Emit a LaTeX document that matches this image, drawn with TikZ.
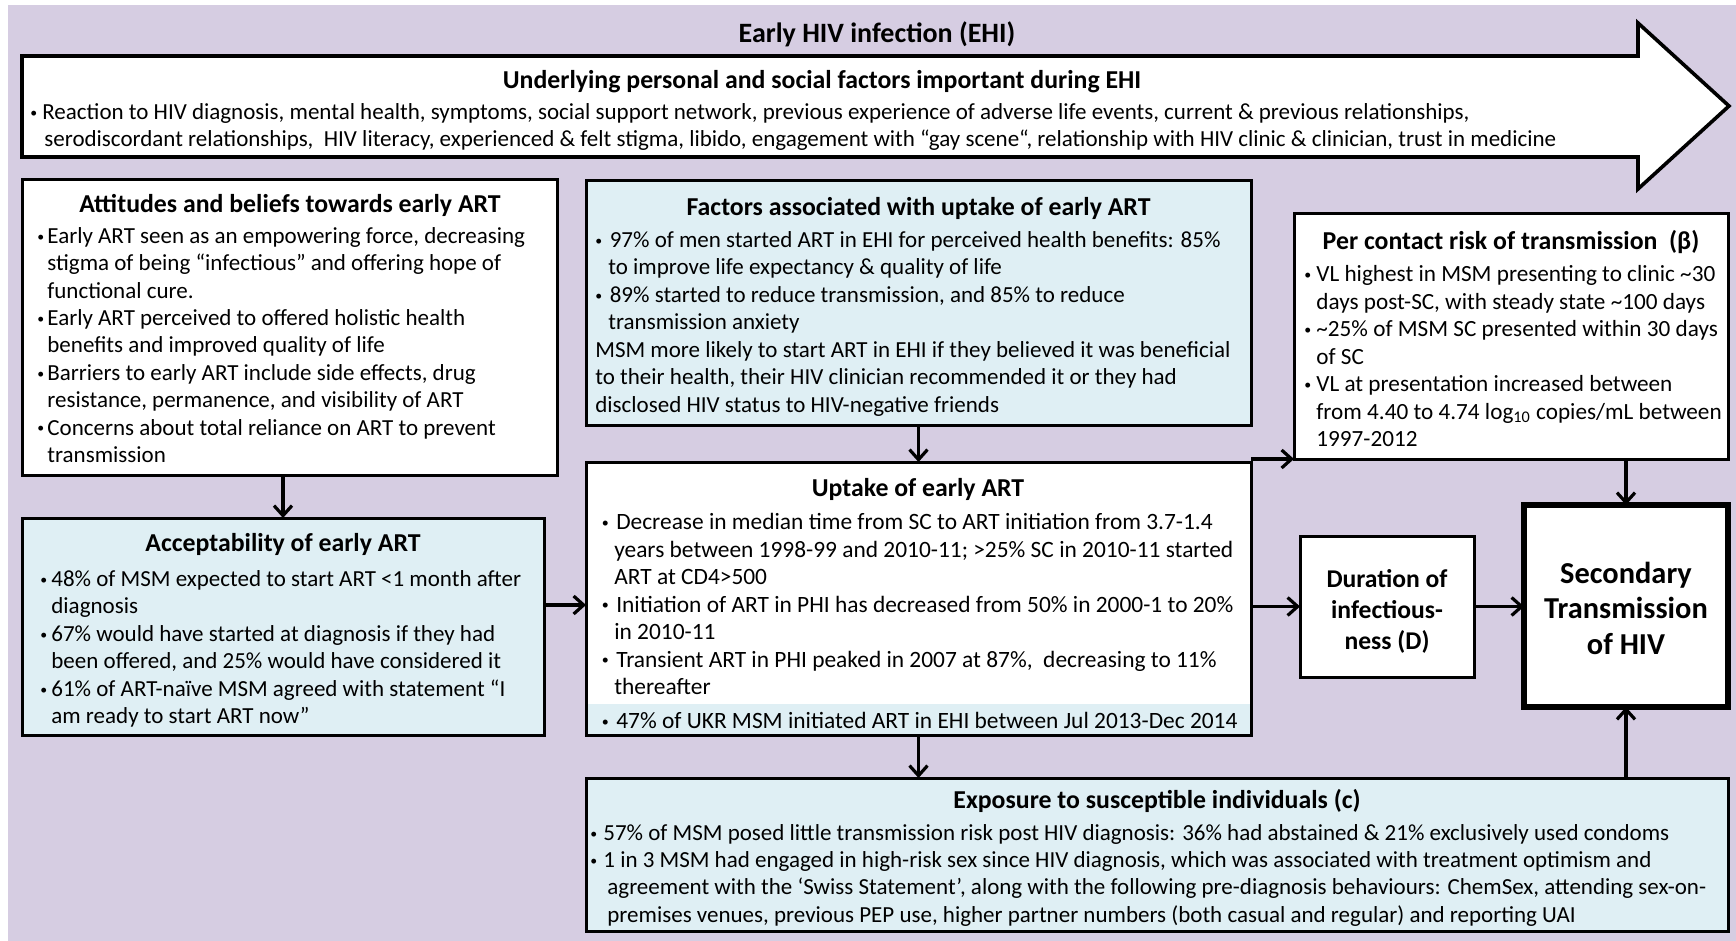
\documentclass[tikz,border=0pt]{standalone}
\usepackage{fontspec}
\setmainfont{Carlito}
\usepackage{graphicx}
\usetikzlibrary{arrows.meta,fit,calc}
\definecolor{bglilac}{RGB}{214,205,226}
\definecolor{paleblue}{RGB}{223,239,244}
\newcommand\bul[1]{\makebox[#1][l]{\raisebox{0.2ex}{\scalebox{0.6}{•}}}}
\newcommand\hang[1]{\hspace*{#1}}
\tikzset{
  box/.style={draw, line width=1.5pt, inner sep=0pt, outer sep=0pt, fill=white},
  bluebox/.style={box, fill=paleblue},
  arr/.style={line width=1.6pt, -{Straight Barb[length=5pt,width=9pt]}},
  % first baseline sits 10pt below the node's top edge
  body/.style={anchor=north west, align=left, inner sep=0pt,
    font=\fontsize{11.5}{13.7}\selectfont, execute at begin node={\rule{0pt}{10pt}}},
  head/.style={anchor=base, inner sep=0pt, font=\fontsize{12.9}{15}\selectfont\bfseries},
}
\begin{document}
\begin{tikzpicture}[x=0.5pt,y=-0.5pt]
\useasboundingbox (0,0) rectangle (1736,941);
\fill[white] (0,0) rectangle (1736,941);
\fill[bglilac] (8,5) rectangle (1736,941);

% phase banner
\node[anchor=base, inner sep=0pt, font=\fontsize{14}{16}\selectfont\bfseries] (title) at (877,43) {Early HIV infection (EHI)};
\draw[line width=1.8pt, fill=white] (22,56) -- (1638,56) -- (1638,23) -- (1729,106) -- (1638,189) -- (1638,157) -- (22,157) -- cycle;
\node[head] (ulh) at (822,89) {Underlying personal and social factors important during EHI};
\node[body, font=\fontsize{11.5}{13.5}\selectfont] (ul) at (30,103) {\bul{6pt}Reaction to HIV diagnosis, mental health, symptoms, social support network, previous experience of adverse life events, current \& previous relationships,\\
\hang{7pt}serodiscordant relationships,\ \ HIV literacy, experienced \& felt stigma, libido, engagement with “gay scene“, relationship with HIV clinic \& clinician, trust in medicine};

% boxes
\node[box, fit={(22,180)(557,475)}] (A) {};
\node[bluebox, fit={(586,181)(1251,425)}] (B) {};
\node[box, fit={(1294,214)(1728,459)}] (C) {};
\node[bluebox, fit={(22,518)(544,735)}] (D) {};
\node[box, fit={(586,462)(1251,735)}] (E) {};
\fill[paleblue] ($(E.south west)+(1.5,-1.5)$) rectangle ($(E.south east)+(-1.5,-31)$);
\node[box, fit={(1300,536)(1474,677)}] (F) {};
\node[box, line width=2.6pt, fit={(1524,505)(1728,707)}] (G) {};
\node[bluebox, fit={(586,778)(1728,931)}] (H) {};

% Attitudes
\node[head] (Ah) at (290,213) {Attitudes and beliefs towards early ART};
\node[body] (At) at (37,227) {\bul{5pt}Early ART seen as an empowering force, decreasing\\
\hang{5pt}stigma of being “infectious” and offering hope of\\
\hang{5pt}functional cure.\\
\bul{5pt}Early ART perceived to offered holistic health\\
\hang{5pt}benefits and improved quality of life\\
\bul{5pt}Barriers to early ART include side effects, drug\\
\hang{5pt}resistance, permanence, and visibility of ART\\
\bul{5pt}Concerns about total reliance on ART to prevent\\
\hang{5pt}transmission};

% Factors
\node[head] (Bh) at (918.5,216) {Factors associated with uptake of early ART};
\node[body, font=\fontsize{11.5}{13.75}\selectfont] (Bt) at (595,231) {\bul{7.2pt}97\% of men started ART in EHI for perceived health benefits: 85\%\\
\hang{6.5pt}to improve life expectancy \& quality of life\\
\bul{7.2pt}89\% started to reduce transmission, and 85\% to reduce\\
\hang{6.5pt}transmission anxiety\\
MSM more likely to start ART in EHI if they believed it was beneficial\\
to their health, their HIV clinician recommended it or they had\\
disclosed HIV status to HIV-negative friends};

% Per contact risk
\node[head] (Ch) at (1511,250) {Per contact risk of transmission\ \ (β)};
\node[body, font=\fontsize{11.6}{13.75}\selectfont] (Ct) at (1304,265) {\bul{6pt}VL highest in MSM presenting to clinic \textasciitilde30\\
\hang{6pt}days post-SC, with steady state \textasciitilde100 days\\
\bul{6pt}\textasciitilde25\% of MSM SC presented within 30 days\\
\hang{6pt}of SC\\
\bul{6pt}VL at presentation increased between\\
\hang{6pt}from 4.40 to 4.74 log\textsubscript{10} copies/mL between\\
\hang{6pt}1997-2012};

% Acceptability
\node[head] (Dh) at (283,551) {Acceptability of early ART};
\node[body, font=\fontsize{11.5}{13.75}\selectfont] (Dt) at (40,570) {\bul{5.5pt}48\% of MSM expected to start ART <1 month after\\
\hang{5.5pt}diagnosis\\
\bul{5.5pt}67\% would have started at diagnosis if they had\\
\hang{5.5pt}been offered, and 25\% would have considered it\\
\bul{5.5pt}61\% of ART-naïve MSM agreed with statement “I\\
\hang{5.5pt}am ready to start ART now”};

% Uptake
\node[head] (Eh) at (918,496) {Uptake of early ART};
\node[body, font=\fontsize{11.7}{13.75}\selectfont] (Et) at (601.5,513) {\bul{7.2pt}Decrease in median time from SC to ART initiation from 3.7-1.4\\
\hang{6.2pt}years between 1998-99 and 2010-11; >25\% SC in 2010-11 started\\
\hang{6.2pt}ART at CD4>500\\
\bul{7.2pt}Initiation of ART in PHI has decreased from 50\% in 2000-1 to 20\%\\
\hang{6.2pt}in 2010-11\\
\bul{7.2pt}Transient ART in PHI peaked in 2007 at 87\%,\ \ decreasing to 11\%\\
\hang{6.2pt}thereafter};
\node[body, font=\fontsize{11.7}{13.75}\selectfont] (Eu) at (601.5,708) {\bul{7.2pt}47\% of UKR MSM initiated ART in EHI between Jul 2013-Dec 2014};

% Duration and secondary transmission
\node[align=center, inner sep=0pt, font=\fontsize{12.8}{15.5}\selectfont\bfseries] (Ft) at ($(F.center)+(0,5)$) {Duration of\\infectious-\\ness (D)};
\node[align=center, inner sep=0pt, font=\fontsize{15.2}{17.75}\selectfont\bfseries] (Gt) at ($(G.center)+(0,2)$) {Secondary\\Transmission\\of HIV};

% Exposure
\node[head] (Hh) at (1157,808) {Exposure to susceptible individuals (c)};
\node[body, font=\fontsize{11.5}{13.65}\selectfont] (Ht) at (590,824) {\bul{6.5pt}57\% of MSM posed little transmission risk post HIV diagnosis: 36\% had abstained \& 21\% exclusively used condoms\\
\bul{6.5pt}1 in 3 MSM had engaged in high-risk sex since HIV diagnosis, which was associated with treatment optimism and\\
\hang{8.5pt}agreement with the ‘Swiss Statement’, along with the following pre-diagnosis behaviours: ChemSex, attending sex-on-\\
\hang{8.5pt}premises venues, previous PEP use, higher partner numbers (both casual and regular) and reporting UAI};

% connectors
\coordinate (dmid) at (0,605);
\draw[arr] (D.north |- A.south) -- (D.north);
\draw[arr] (B.south) -- (E.north);
\draw[arr] (D.east |- dmid) -- (E.west |- dmid);
\draw[arr] (E.north east |- C.south west) -- (C.south west);
\draw[arr] (E.east |- F.west) -- (F.west);
\draw[arr] (F.east) -- (G.west |- F.east);
\draw[arr] (G.north |- C.south) -- (G.north);
\draw[arr] (H.north -| G.south) -- (G.south);
\draw[arr] (E.south) -- (E.south |- H.north);
\end{tikzpicture}
\end{document}
